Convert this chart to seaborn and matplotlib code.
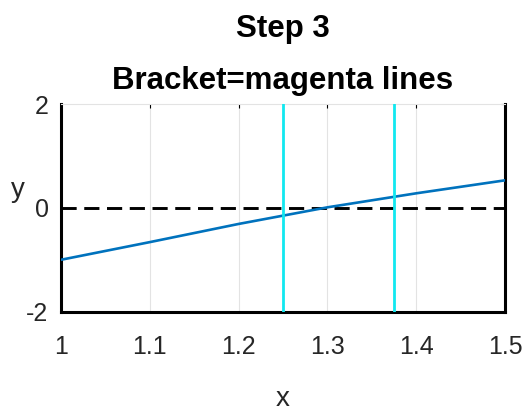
import matplotlib
matplotlib.use("Agg")
import matplotlib.pyplot as plt
import seaborn as sns
import pandas as pd

# data
x_vals = [1.0, 1.1, 1.2, 1.3, 1.4, 1.5]
y_vals = [-1.0, -0.66, -0.31, 0.01, 0.28, 0.53]
bracket = [1.25, 1.375]
x_ticks = [1.0, 1.1, 1.2, 1.3, 1.4, 1.5]
x_ticklabels = ["1", "1.1", "1.2", "1.3", "1.4", "1.5"]
y_ticks = [-2, 0, 2]
y_ticklabels = ["-2", "0", "2"]
title_lines = ["Step 3", "Bracket=magenta lines"]

sns.set_style("white")
plt.rcParams['font.family'] = ['Liberation Sans', 'DejaVu Sans']
plt.rcParams['axes.unicode_minus'] = False

fig = plt.figure(figsize=(5.29, 4.16), dpi=100)
ax = fig.add_axes([61/529, (416-311.7)/416, (505-61)/529, (311.7-104)/416])

df = pd.DataFrame({"x": x_vals, "y": y_vals})

ax.grid(True, axis='x', color='#e3e3e3', lw=0.8)
ax.axhline(0, color='black', lw=2.1, linestyle=(0, (5.2, 2.6)), zorder=2)
sns.lineplot(data=df, x="x", y="y", ax=ax, color='#0072BD', lw=1.9, zorder=3)
for b in bracket:
    ax.axvline(b, color='#11E8F0', lw=2.0, zorder=4)

ax.set_xlim(1.0, 1.5)
ax.set_ylim(-2, 2)
ax.set_xticks(x_ticks)
ax.set_xticklabels(x_ticklabels)
ax.set_yticks(y_ticks)
ax.set_yticklabels(y_ticklabels)
ax.tick_params(axis='both', direction='in', length=3, width=0.8, labelsize=18,
               colors='black', labelcolor='#262626', top=True, right=True)
ax.tick_params(axis='x', pad=17)
ax.tick_params(axis='y', pad=9)

for s in ['left', 'bottom', 'right']:
    ax.spines[s].set_color('black')
    ax.spines[s].set_linewidth(2.2)
ax.spines['top'].set_color('#e3e3e3')
ax.spines['top'].set_linewidth(0.8)

ax.set_xlabel('x', fontsize=20, labelpad=19, color='#262626')
ax.set_ylabel('y', fontsize=20, rotation=0, color='#262626', ha='center', va='baseline')
ax.yaxis.set_label_coords(-0.097, 0.552)

ax.set_title("\n".join(title_lines), fontsize=22.5, fontweight='bold', linespacing=1.95,
             pad=11, color='black')

fig.savefig("out.png", dpi=100)
